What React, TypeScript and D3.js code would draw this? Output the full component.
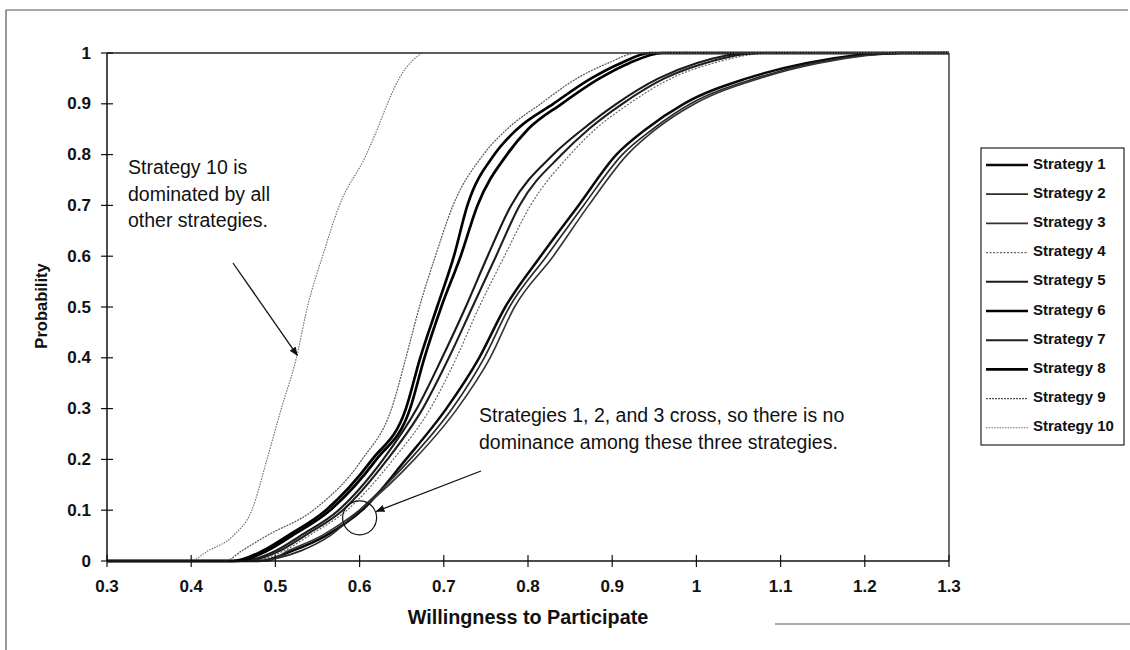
import React from 'react';
import * as d3 from 'd3';

// Cumulative probability levels at which each strategy's willingness value is recorded
const PROB_LEVELS = [0, 0.02, 0.05, 0.1, 0.2, 0.3, 0.4, 0.5, 0.6, 0.7, 0.8, 0.85, 0.9, 0.95, 0.98, 1];

const strategy1 = [0.48, 0.52, 0.56, 0.603, 0.655, 0.703, 0.742, 0.773, 0.815, 0.86, 0.905, 0.94, 0.985, 1.06, 1.13, 1.24];
const strategy2 = [0.47, 0.53, 0.565, 0.6, 0.66, 0.71, 0.748, 0.778, 0.822, 0.866, 0.912, 0.948, 0.993, 1.07, 1.14, 1.25];
const strategy3 = [0.49, 0.515, 0.555, 0.6, 0.665, 0.716, 0.755, 0.784, 0.83, 0.872, 0.918, 0.952, 0.998, 1.075, 1.145, 1.255];
const strategy4 = [0.47, 0.51, 0.54, 0.585, 0.64, 0.684, 0.715, 0.742, 0.772, 0.803, 0.85, 0.88, 0.92, 0.97, 1.02, 1.09];
const strategy5 = [0.46, 0.5, 0.53, 0.575, 0.628, 0.668, 0.698, 0.726, 0.752, 0.78, 0.83, 0.865, 0.905, 0.955, 1.0, 1.065];
const strategy6 = [0.45, 0.485, 0.515, 0.56, 0.615, 0.655, 0.672, 0.692, 0.712, 0.728, 0.76, 0.787, 0.83, 0.875, 0.91, 0.945];
const strategy7 = [0.465, 0.505, 0.535, 0.58, 0.633, 0.675, 0.706, 0.734, 0.762, 0.79, 0.84, 0.872, 0.912, 0.962, 1.01, 1.075];
const strategy8 = [0.455, 0.49, 0.52, 0.565, 0.62, 0.66, 0.677, 0.697, 0.72, 0.74, 0.775, 0.8, 0.84, 0.885, 0.92, 0.96];
const strategy9 = [0.44, 0.46, 0.49, 0.545, 0.603, 0.638, 0.655, 0.671, 0.69, 0.711, 0.747, 0.775, 0.815, 0.858, 0.895, 0.93];
const strategy10 = [0.398, 0.42, 0.45, 0.472, 0.49, 0.507, 0.525, 0.538, 0.556, 0.576, 0.608, 0.621, 0.633, 0.647, 0.66, 0.678];

const STRATEGY_NAMES = [
  'Strategy 1', 'Strategy 2', 'Strategy 3', 'Strategy 4', 'Strategy 5',
  'Strategy 6', 'Strategy 7', 'Strategy 8', 'Strategy 9', 'Strategy 10',
];
const STRATEGY_VALUES = [
  strategy1, strategy2, strategy3, strategy4, strategy5,
  strategy6, strategy7, strategy8, strategy9, strategy10,
];

const X_DOMAIN: [number, number] = [0.3, 1.3];
const X_TICKS = [0.3, 0.4, 0.5, 0.6, 0.7, 0.8, 0.9, 1, 1.1, 1.2, 1.3];
const Y_TICKS = [0, 0.1, 0.2, 0.3, 0.4, 0.5, 0.6, 0.7, 0.8, 0.9, 1];

const X_TITLE = 'Willingness to Participate';
const Y_TITLE = 'Probability';
const NOTE_TEN = ['Strategy 10 is', 'dominated by all', 'other strategies.'];
const NOTE_CROSS = ['Strategies 1, 2, and 3 cross, so there is no', 'dominance among these three strategies.'];

// Line appearance per strategy (stroke colour, width, dash)
const STYLES = [
  { stroke: '#0a0a0a', width: 2.5, dash: '' },
  { stroke: '#2a2a2a', width: 1.7, dash: '' },
  { stroke: '#333', width: 1.6, dash: '' },
  { stroke: '#666', width: 1.2, dash: '2,1.5' },
  { stroke: '#1a1a1a', width: 2.1, dash: '' },
  { stroke: '#000', width: 2.7, dash: '' },
  { stroke: '#1f1f1f', width: 2.1, dash: '' },
  { stroke: '#000', width: 2.7, dash: '' },
  { stroke: '#555', width: 1.2, dash: '2,1' },
  { stroke: '#6a6a6a', width: 1.1, dash: '1.5,1.2' },
];

const FONT = '"Liberation Sans", Arial, Helvetica, sans-serif';

export default function App() {
  const W = 1130;
  const H = 650;
  const plot = { left: 107, right: 949, top: 53, bottom: 561 };

  const x = d3.scaleLinear().domain(X_DOMAIN).range([plot.left, plot.right]);
  const y = d3.scaleLinear().domain([0, 1]).range([plot.bottom, plot.top]);

  const line = d3
    .line<[number, number]>()
    .x((d) => x(d[0]))
    .y((d) => y(d[1]))
    .curve(d3.curveMonotoneX);

  const series = STRATEGY_VALUES.map((vals) => {
    const pts: [number, number][] = [[X_DOMAIN[0], 0]];
    vals.forEach((v, i) => pts.push([v, PROB_LEVELS[i]]));
    pts.push([X_DOMAIN[1], 1]);
    return pts;
  });

  const fmt = (v: number) => String(+v.toFixed(1));

  // annotation geometry
  const circle = { cx: x(0.6), cy: y(0.085), r: 17 };
  const arrow1 = { x1: 233, y1: 263, x2: x(0.526), y2: y(0.405) };
  const dirX = 481 - circle.cx;
  const dirY = 471 - circle.cy;
  const len = Math.hypot(dirX, dirY);
  const arrow2 = {
    x1: 481,
    y1: 471,
    x2: circle.cx + (dirX / len) * (circle.r + 1),
    y2: circle.cy + (dirY / len) * (circle.r + 1),
  };

  const legend = { left: 981, top: 148, right: 1124, bottom: 445, firstY: 163, step: 29.2 };

  return (
    <svg
      width={W}
      height={H}
      style={{ position: 'absolute', left: 0, top: 0, background: '#fff' }}
      fontFamily={FONT}
    >
      <defs>
        <marker id="head" viewBox="0 0 10 10" refX="9" refY="5" markerWidth="9" markerHeight="9" orient="auto-start-reverse" markerUnits="userSpaceOnUse">
          <path d="M0,1 L10,5 L0,9 z" fill="#111" />
        </marker>
      </defs>
      <rect x={0} y={0} width={W} height={H} fill="#fff" />

      {/* outer frame */}
      <line x1={6} y1={10} x2={6} y2={650} stroke="#555" strokeWidth={1.2} />
      <line x1={6} y1={10} x2={1128} y2={10} stroke="#555" strokeWidth={1.2} />
      <line x1={775} y1={624} x2={1130} y2={624} stroke="#aaa" strokeWidth={2} />

      {/* plot frame */}
      <line x1={plot.left} y1={plot.top} x2={plot.right} y2={plot.top} stroke="#222" strokeWidth={1.3} />
      <line x1={plot.right} y1={plot.top} x2={plot.right} y2={plot.bottom} stroke="#222" strokeWidth={1.3} />

      {/* curves */}
      {series.map((pts, i) => (
        <path
          key={STRATEGY_NAMES[i]}
          d={line(pts) || ''}
          fill="none"
          stroke={STYLES[i].stroke}
          strokeWidth={STYLES[i].width}
          strokeDasharray={STYLES[i].dash || undefined}
          strokeLinejoin="round"
        />
      ))}

      {/* axes */}
      <line x1={plot.left} y1={plot.top} x2={plot.left} y2={plot.bottom} stroke="#111" strokeWidth={1.5} />
      <line x1={plot.left} y1={plot.bottom} x2={plot.right} y2={plot.bottom} stroke="#111" strokeWidth={1.5} />
      {Y_TICKS.map((t) => (
        <g key={'y' + t}>
          <line x1={plot.left - 6} x2={plot.left + 6} y1={y(t)} y2={y(t)} stroke="#111" strokeWidth={1.2} />
          <text x={91} y={y(t)} textAnchor="end" dominantBaseline="central" fontSize={17} fontWeight="bold" fill="#111">
            {fmt(t)}
          </text>
        </g>
      ))}
      {X_TICKS.map((t) => (
        <g key={'x' + t}>
          <line x1={x(t)} x2={x(t)} y1={plot.bottom - 6} y2={plot.bottom + 6} stroke="#111" strokeWidth={1.2} />
          <text x={x(t)} y={586} textAnchor="middle" dominantBaseline="central" fontSize={17} fontWeight="bold" fill="#111">
            {fmt(t)}
          </text>
        </g>
      ))}

      <text x={528} y={617} textAnchor="middle" dominantBaseline="central" fontSize={19.8} fontWeight="bold" fill="#111">
        {X_TITLE}
      </text>
      <text
        transform={`translate(41,306) rotate(-90)`}
        textAnchor="middle"
        dominantBaseline="central"
        fontSize={16.5}
        fontWeight="bold"
        fill="#111"
      >
        {Y_TITLE}
      </text>

      {/* annotations */}
      {NOTE_TEN.map((s, i) => (
        <text key={s} x={128} y={167 + i * 26.5} dominantBaseline="central" fontSize={19.5} fill="#111">
          {s}
        </text>
      ))}
      <line x1={arrow1.x1} y1={arrow1.y1} x2={arrow1.x2} y2={arrow1.y2} stroke="#111" strokeWidth={1.3} markerEnd="url(#head)" />

      {NOTE_CROSS.map((s, i) => (
        <text key={s} x={479} y={415 + i * 27} dominantBaseline="central" fontSize={19.5} fill="#111">
          {s}
        </text>
      ))}
      <line x1={arrow2.x1} y1={arrow2.y1} x2={arrow2.x2} y2={arrow2.y2} stroke="#111" strokeWidth={1.3} markerEnd="url(#head)" />
      <circle cx={circle.cx} cy={circle.cy} r={circle.r} fill="none" stroke="#111" strokeWidth={1.2} />

      {/* legend */}
      <rect
        x={legend.left}
        y={legend.top}
        width={legend.right - legend.left}
        height={legend.bottom - legend.top}
        fill="#fff"
        stroke="#222"
        strokeWidth={1.2}
      />
      {STRATEGY_NAMES.map((name, i) => {
        const cy = legend.firstY + i * legend.step;
        return (
          <g key={'lg' + name}>
            <line
              x1={986}
              x2={1028}
              y1={cy + 2}
              y2={cy + 2}
              stroke={STYLES[i].stroke}
              strokeWidth={STYLES[i].width}
              strokeDasharray={STYLES[i].dash || undefined}
            />
            <text x={1033} y={cy} dominantBaseline="central" fontSize={15} fontWeight="bold" fill="#111">
              {name}
            </text>
          </g>
        );
      })}
    </svg>
  );
}
